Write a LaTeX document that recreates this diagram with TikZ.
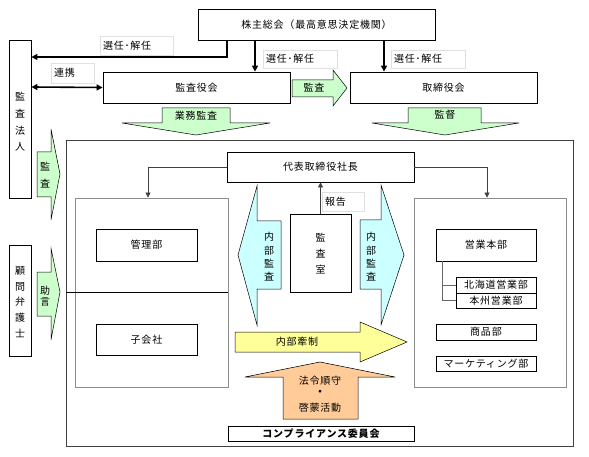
\documentclass[tikz,border=0pt]{standalone}
\usepackage{fontspec}
\newfontfamily\jp{Noto Sans CJK JP}[LetterSpace=8]
\usetikzlibrary{arrows.meta}
\definecolor{lgreen}{HTML}{CCFFCC}
\definecolor{lcyan}{HTML}{CCFFFF}
\definecolor{lyellow}{HTML}{FFFF99}
\definecolor{lorange}{HTML}{FFCC99}
\begin{document}
\begin{tikzpicture}[x=1pt,y=-1pt,
  every node/.style={font=\jp\fontsize{10}{11}\selectfont},
  box/.style={draw=black,line width=0.8pt,fill=white,inner sep=0pt},
  grp/.style={draw=black!45,line width=0.8pt,inner sep=0pt},
  lbl/.style={draw=black!12,line width=0.6pt,fill=white,inner xsep=3pt,inner ysep=0pt,align=left},
  vt/.style={align=center,inner sep=0pt},
  boldarrow/.style={line width=1.6pt,-{Triangle[length=6pt,width=6pt]}},
  thinarrow/.style={draw=black!75,line width=0.6pt,-{Triangle[length=5pt,width=5pt]}},
  blockarrow/.style={draw=black,line width=0.5pt}
]
\useasboundingbox (0,0) rectangle (589,457);

% outer frame and groups
\node[draw=black!75,line width=0.8pt,minimum width=507,minimum height=306,inner sep=0pt] (outer) at (319.5,293) {};
\node[grp,minimum width=153,minimum height=189] (leftin) at (151.5,292.5) {};
\node[grp,minimum width=152,minimum height=189] (rightin) at (490,292.5) {};
\draw[line width=0.8pt] (outer.west |- 0,292) -- (leftin.east |- 0,292);

% boxes
\node[box,minimum width=237,minimum height=31] (soukai) at (316.5,24.5) {株主総会（最高意思決定機関）};
\node[box,minimum width=22,minimum height=158] (houjin) at (20,119) {};
\node[vt,font=\jp\fontsize{10}{16.7}\selectfont] (houjintxt) at (20,122) {監\\査\\法\\人};
\node[box,minimum width=22,minimum height=111] (komon) at (20,300.5) {};
\node[vt,font=\jp\fontsize{10}{15.7}\selectfont] (komontxt) at (20,302) {顧\\問\\弁\\護\\士};
\node[box,minimum width=187,minimum height=31] (kansayaku) at (196.5,87.5) {監査役会};
\node[box,minimum width=187,minimum height=31] (torishimari) at (443.5,87.5) {取締役会};
\node[box,minimum width=187,minimum height=30] (daihyo) at (320.5,167) {代表取締役社長};
\node[box,minimum width=101,minimum height=32] (kanri) at (146.5,245) {管理部};
\node[box,minimum width=101,minimum height=31] (kogaisha) at (146.5,339.5) {子会社};
\node[box,minimum width=61,minimum height=78] (kansashitsu) at (320.5,253) {};
\node[vt,font=\jp\fontsize{10}{16}\selectfont] (kansashitsutxt) at (320.5,254) {監\\査\\室};
\node[box,minimum width=100,minimum height=32] (eigyo) at (486,245) {営業本部};
\node[box,minimum width=80,minimum height=16] (hokkaido) at (496,285) {北海道営業部};
\node[box,minimum width=80,minimum height=15] (honshu) at (496,300.5) {本州営業部};
\node[box,minimum width=100,minimum height=16] (shohin) at (486,332) {商品部};
\node[box,minimum width=100,minimum height=15] (marketing) at (486,363.5) {マーケティング部};
\node[box,minimum width=186,minimum height=15] (compliance) at (321,433.5) {\bfseries コンプライアンス委員会};

% connectors
\draw[boldarrow] (soukai.south -| 227,0) |- (houjin.east |- 0,57);
\draw[boldarrow] (soukai.south -| 255,0) -- (kansayaku.north -| 255,0);
\draw[boldarrow] (soukai.south -| 384,0) -- (torishimari.north -| 384,0);
\draw[line width=1.6pt,{Triangle[length=6pt,width=6pt]}-{Triangle[length=6pt,width=6pt]}] (houjin.east |- 0,87) -- (kansayaku.west);
\draw[thinarrow] (daihyo.west) -| (leftin.north -| 148,0);
\draw[thinarrow] (daihyo.east) -| (rightin.north -| 487,0);
\draw[thinarrow] (kansashitsu.north) -- (daihyo.south);
\draw[draw=black!60,line width=0.6pt] (eigyo.south -| 442,0) |- (hokkaido.west);
\draw[draw=black!60,line width=0.6pt] (eigyo.south -| 442,0) |- (honshu.west);

% labels
\node[lbl,text width=67,minimum height=19] (l1) at (136.5,45.5) {選任･解任};
\node[lbl,text width=68,minimum height=18] (l2) at (300,59) {選任･解任};
\node[lbl,text width=68,minimum height=18] (l3) at (428,59) {選任･解任};
\node[lbl,text width=37,minimum height=20] (l4) at (72.5,73) {連携};
\node[lbl,text width=36,minimum height=19] (l5) at (343,201.5) {報告};

% block arrows
\draw[blockarrow,fill=lgreen] (292,80) -- (333,80) -- (333,70) -- (347,88) -- (333,106) -- (333,97) -- (292,97) -- cycle;
\node (a1) at (314,88) {監査};
\draw[blockarrow,fill=lgreen] (162,108) -- (230,108) -- (230,123) -- (270,123) -- (196,135) -- (122,123) -- (162,123) -- cycle;
\node (a2) at (196,116) {業務監査};
\draw[blockarrow,fill=lgreen] (408,108) -- (481,108) -- (481,123) -- (519,123) -- (445,135) -- (372,123) -- (408,123) -- cycle;
\node (a3) at (445,115) {監督};
\draw[blockarrow,fill=lgreen] (37,152) -- (51,152) -- (51,129) -- (60,174) -- (51,220) -- (51,197) -- (37,197) -- cycle;
\node[vt,font=\jp\fontsize{10}{17}\selectfont] (a4) at (45,175.5) {監\\査};
\draw[blockarrow,fill=lgreen] (37,272) -- (51,272) -- (51,248) -- (60,292) -- (51,340) -- (51,316) -- (37,316) -- cycle;
\node[vt,font=\jp\fontsize{10}{11}\selectfont] (a5) at (45,296) {助\\言};
\draw[blockarrow,fill=lcyan] (281,221) -- (281,289) -- (257,289) -- (257,325) -- (238,255) -- (257,186) -- (257,221) -- cycle;
\node[vt,font=\jp\fontsize{10}{13.3}\selectfont] (a6) at (269,257) {内\\部\\監\\査};
\draw[blockarrow,fill=lcyan] (360,220) -- (381,220) -- (381,185) -- (404,255) -- (381,325) -- (381,289) -- (360,289) -- cycle;
\node[vt,font=\jp\fontsize{10}{13.3}\selectfont] (a7) at (371,257) {内\\部\\監\\査};
\draw[blockarrow,fill=lyellow] (235,332) -- (360,332) -- (360,322) -- (407,342) -- (360,362) -- (360,352) -- (235,352) -- cycle;
\node (a8) at (297,342) {内部牽制};
\draw[blockarrow,fill=lorange] (283,419) -- (283,377) -- (245,377) -- (320,362) -- (395,377) -- (358,377) -- (358,419) -- cycle;
\node (a9a) at (320,381) {法令順守};
\node[font=\jp\bfseries\fontsize{10}{11}\selectfont] (a9b) at (320,393) {・};
\node (a9c) at (320,408) {啓蒙活動};
\end{tikzpicture}
\end{document}
